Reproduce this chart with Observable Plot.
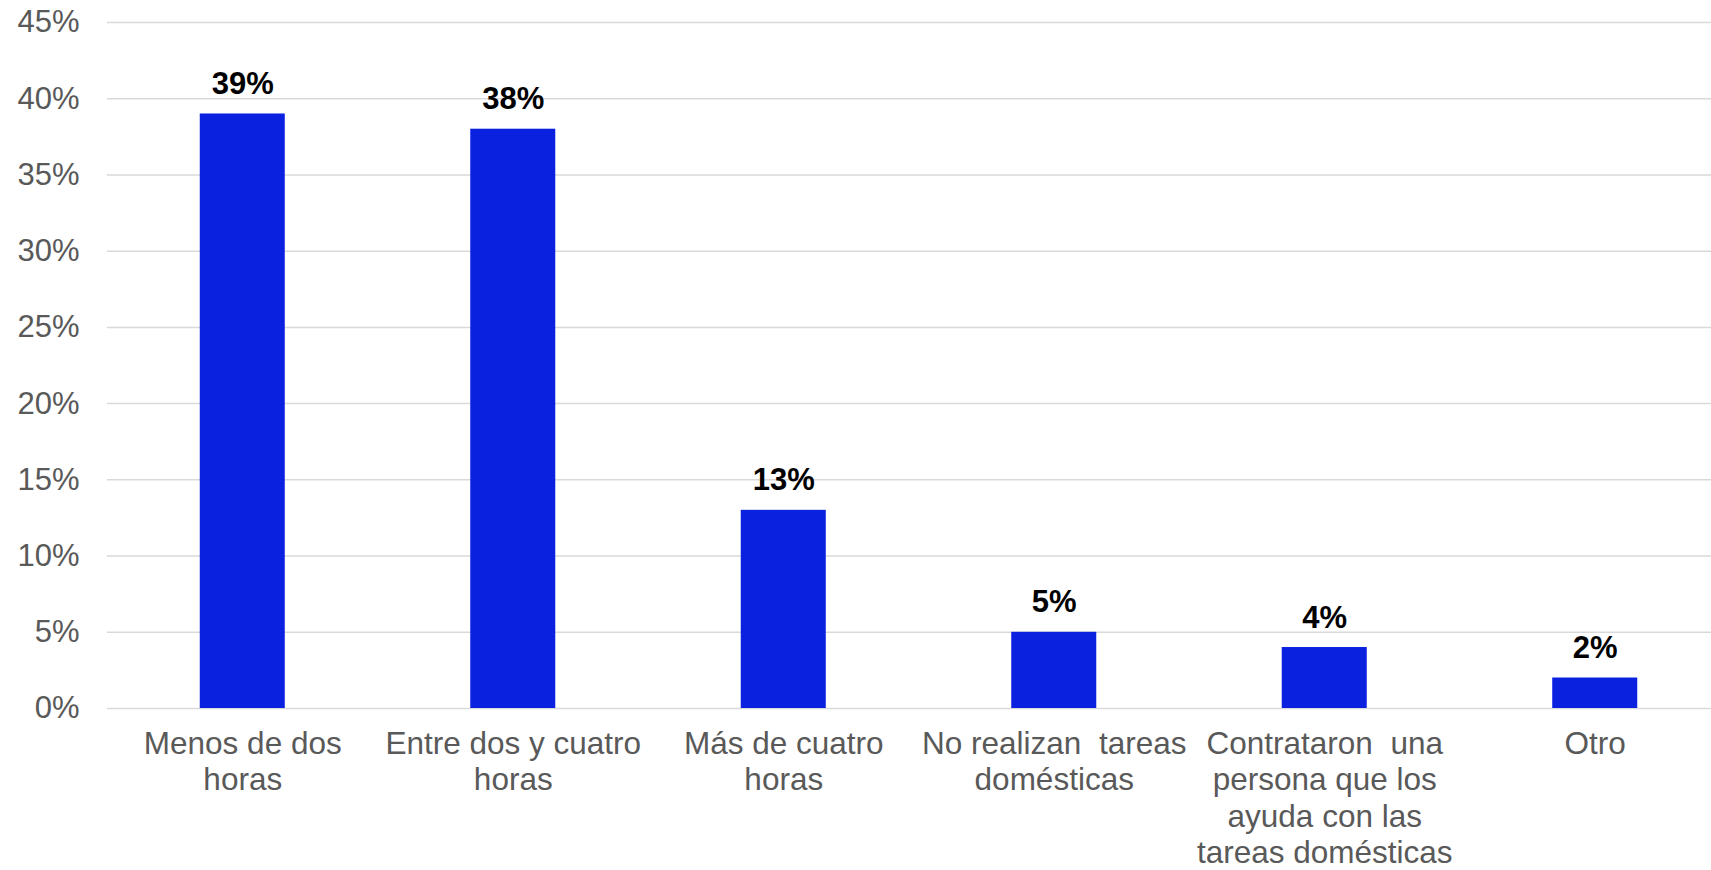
<!DOCTYPE html>
<html>
<head>
<meta charset="utf-8">
<script src="https://cdn.jsdelivr.net/npm/d3@7"></script>
<script src="https://cdn.jsdelivr.net/npm/@observablehq/plot@0.6"></script>
<style>
  html, body { margin: 0; padding: 0; background: #fff; overflow: hidden; }
  #chart svg { display: block; font-family: "Liberation Sans", Arial, sans-serif; }
  #chart svg text { white-space: pre; }
</style>
</head>
<body>
<div id="chart"></div>
<script>
const categories = [
  "Menos de dos\nhoras",
  "Entre dos y cuatro\nhoras",
  "Más de cuatro\nhoras",
  "No realizan  tareas\ndomésticas",
  "Contrataron  una\npersona que los\nayuda con las\ntareas domésticas",
  "Otro"
];
const values = [39, 38, 13, 5, 4, 2];
const yTicks = [0, 5, 10, 15, 20, 25, 30, 35, 40, 45];

const data = categories.map((c, i) => ({cat: c, value: values[i]}));

const chart = Plot.plot({
  width: 1711,
  height: 870,
  marginLeft: 107,
  marginRight: 0,
  marginTop: 22,
  marginBottom: 162,
  style: {fontFamily: "'Liberation Sans', Arial, sans-serif", background: "#fff"},
  x: {domain: categories, range: [107, 1730], paddingInner: 0.6857, paddingOuter: 0.3429, round: false, label: null},
  y: {domain: [0, 45], label: null},
  marks: [
    Plot.gridY({ticks: yTicks, stroke: "#d9d9d9", strokeOpacity: 1, strokeWidth: 1.5}),
    Plot.barY(data, {x: "cat", y: "value", fill: "#0a22e0"}),
    Plot.text(data, {x: "cat", y: "value", text: d => d.value + "%", dy: -20, lineAnchor: "bottom",
      fontWeight: "bold", fontSize: 31, fill: "#000"}),
    Plot.axisY({ticks: yTicks, tickFormat: d => d + "%", tickSize: 0, tickPadding: 28,
      fontSize: 31, color: "#595959", label: null}),
    Plot.axisX({tickSize: 0, tickPadding: 20, fontSize: 31.5, lineHeight: 1.15, color: "#595959",
      textOverflow: null, lineWidth: Infinity, label: null})
  ]
});
document.getElementById("chart").appendChild(chart);
</script>
</body>
</html>
